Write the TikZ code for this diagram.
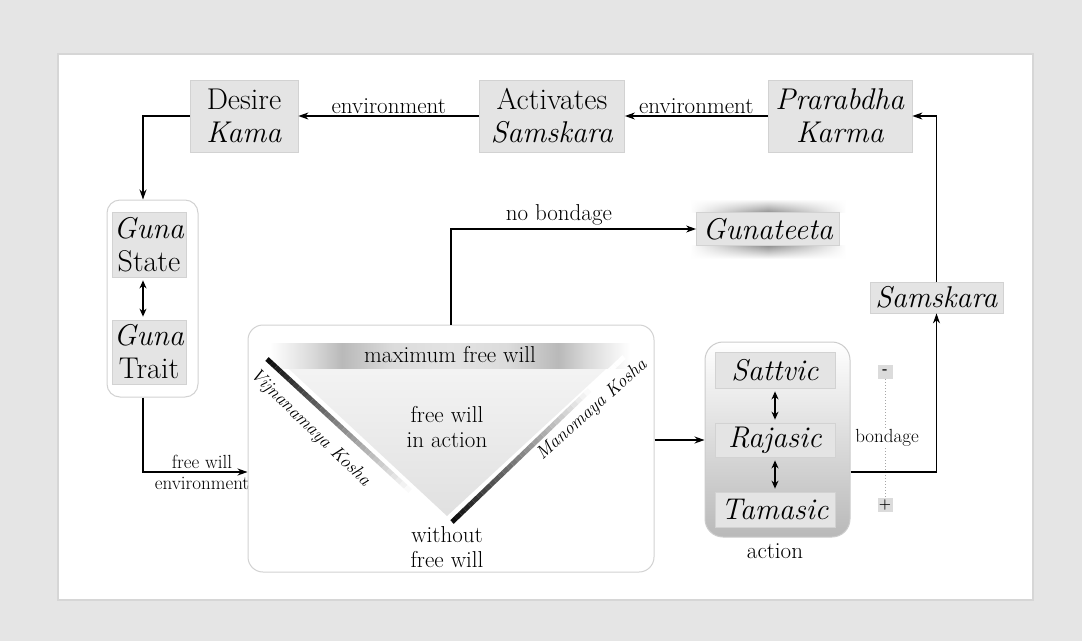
\documentclass[tikz,border=0pt]{standalone}
\usetikzlibrary{arrows.meta,calc,fadings}
\definecolor{bg}{HTML}{E5E5E5}
\definecolor{boxfill}{HTML}{E4E4E4}
\definecolor{boxline}{HTML}{D2D2D2}
\definecolor{panelline}{HTML}{D6D6D6}
\pgfdeclarehorizontalshading{bandshade}{100bp}{color(0bp)=(white); color(25bp)=(white); color(31bp)=(gray!30); color(35bp)=(gray!55); color(42bp)=(gray!28); color(50bp)=(gray!22); color(58bp)=(gray!28); color(65bp)=(gray!55); color(69bp)=(gray!30); color(75bp)=(white); color(100bp)=(white)}
\tikzset{
  big/.style={font=\fontsize{30}{33}\selectfont},
  small/.style={font=\fontsize{23}{25}\selectfont},
  kosha/.style={font=\fontsize{18.5}{20}\selectfont\itshape},
  tiny/.style={font=\fontsize{19}{20}\selectfont},
  gbox/.style={big, fill=boxfill, draw=boxline, line width=0.8pt, align=center, inner sep=0pt},
  outerbox/.style={draw=boxline, line width=1pt, fill=white, rounded corners=13pt, inner sep=0pt},
  arr/.style={-{Stealth[length=10pt,width=7pt]}, line width=1.2pt},
  darr/.style={{Stealth[length=8pt,width=7pt]}-{Stealth[length=8pt,width=7pt]}, line width=1.2pt},
  lbl/.style={small, inner sep=1pt},
}
\begin{document}
\begin{tikzpicture}[x=1pt,y=-1pt]
\useasboundingbox (0,0) rectangle (1082,641);
\fill[bg] (0,0) rectangle (1082,641);
\fill[white, draw=panelline, line width=1.5pt] (58,54) rectangle (1033,600);

% top row
\node[gbox, minimum width=108pt, minimum height=72pt] (desire) at (244,116) {Desire\\\textit{Kama}};
\node[gbox, minimum width=145pt, minimum height=72pt] (activ) at (552,116) {Activates\\\textit{Samskara}};
\node[gbox, minimum width=144pt, minimum height=72pt] (prar) at (840,116) {\textit{Prarabdha}\\\textit{Karma}};

\draw[arr] (activ.west) -- node[lbl, above=1pt] {environment} (desire.east);
\draw[arr] (prar.west) -- node[lbl, above=1pt] {environment} (activ.east);

% guna column
\node[outerbox, minimum width=91pt, minimum height=197pt] (gunaouter) at (152.5,298.5) {};
\node[gbox, minimum width=74pt, minimum height=65pt] (gstate) at (149,244.5) {\textit{Guna}\\State};
\node[gbox, minimum width=74pt, minimum height=64pt] (gtrait) at (149,352) {\textit{Guna}\\Trait};
\coordinate (gx) at (143,0);
\draw[arr] (desire.west) -| (gunaouter.north -| gx);
\draw[darr] ($(gstate.south -| gx)+(0,3)$) -- ($(gtrait.north -| gx)+(0,-3)$);

% triangle box
\node[outerbox, minimum width=406pt, minimum height=247pt, rounded corners=15pt] (tribox) at (451,448.5) {};
\coordinate (ey) at (0,472);
\draw[arr] (gunaouter.south -| gx) |- (tribox.west |- ey);
\node[tiny, inner sep=0pt] (fwl) at (202,462) {free will};
\node[tiny, inner sep=0pt] (envl) at (202,483) {environment};

\coordinate (tl) at (275,356);
\coordinate (tr) at (620,356);
\coordinate (tb) at (447,516);
\shade[top color=gray!8, bottom color=gray!24] (tl) -- (tr) -- (tb) -- cycle;
\shade[shading=bandshade] (270,343) rectangle (630,368);
\node[small] (maxfw) at (450,355) {maximum free will};

\coordinate (la) at (267,359);
\coordinate (lb) at (446,524);
\coordinate (ra) at (452,522);
\coordinate (rb) at (624,357);
\foreach \i in {0,...,39}{
  \pgfmathsetmacro\c{max(0,95-\i*120/40)}
  \draw[line width=5pt, black!\c!white] ($(la)!\i/40!(lb)$) -- ($(la)!{(\i+1)/40}!(lb)$);
  \draw[line width=5pt, black!\c!white] ($(ra)!\i/40!(rb)$) -- ($(ra)!{(\i+1)/40}!(rb)$);
}
\node[kosha, rotate=-44] (vij) at (310,428) {Vijnanamaya Kosha};
\node[kosha, rotate=42] (mano) at (592,410) {Manomaya Kosha};
\node[small, align=center] (fwia) at (447,427) {free will\\in action};
\node[small, align=center] (wfw) at (447,547) {without\\free will};

% gunateeta
\node[gbox, minimum width=143pt, minimum height=33pt] (gunateeta) at (768,229) {};
\shade[left color=white, right color=white, middle color=gray!85, path fading=north] (gunateeta.north west) ++(-6,-13) rectangle ($(gunateeta.north east)+(6,0)$);
\shade[left color=white, right color=white, middle color=gray!85, path fading=south] (gunateeta.south west) ++(-6,13) rectangle ($(gunateeta.south east)+(6,0)$);
\node[gbox, minimum width=143pt, minimum height=33pt] at (gunateeta) {\textit{Gunateeta}};
\draw[arr] (tribox.north) |- node[lbl, pos=0.72, above=2pt] {no bondage} (gunateeta.west);

% action box
\node[draw=gray!40, line width=1pt, rounded corners=18pt, top color=white, bottom color=gray!55, minimum width=145pt, minimum height=195pt, inner sep=0pt] (action) at (777.5,439.5) {};
\node[gbox, minimum width=120pt, minimum height=36pt] (satt) at (775,370) {\textit{Sattvic}};
\node[gbox, minimum width=120pt, minimum height=34pt] (raj) at (775,440) {\textit{Rajasic}};
\node[gbox, minimum width=120pt, minimum height=35pt] (tam) at (775,509.5) {\textit{Tamasic}};
\draw[darr] ($(satt.south)+(0,3)$) -- ($(raj.north)+(0,-3)$);
\draw[darr] ($(raj.south)+(0,3)$) -- ($(tam.north)+(0,-3)$);
\node[small] (actl) at (775,551) {action};
\draw[arr] (tribox.east |- raj) -- (action.west |- raj);

% bondage scale
\node[fill=gray!28, minimum width=15pt, minimum height=14pt, inner sep=0pt, font=\bfseries\fontsize{14}{14}\selectfont] (minus) at (885,372) {-};
\node[fill=gray!28, minimum width=15pt, minimum height=14pt, inner sep=0pt, font=\bfseries\fontsize{14}{14}\selectfont] (plus) at (885,505) {+};
\draw[gray!70, dotted, line width=1pt] (minus.south) -- (plus.north);
\node[tiny, fill=white, inner sep=1pt] (bond) at (887,438) {bondage};

% samskara
\node[gbox, minimum width=133pt, minimum height=31pt] (samsk) at (936.5,297.5) {\textit{Samskara}};
\coordinate (ey2) at (0,472);
\draw[arr] (action.east |- ey2) -| (samsk.south);
\draw[arr] (samsk.north) |- (prar.east);
\end{tikzpicture}
\end{document}
